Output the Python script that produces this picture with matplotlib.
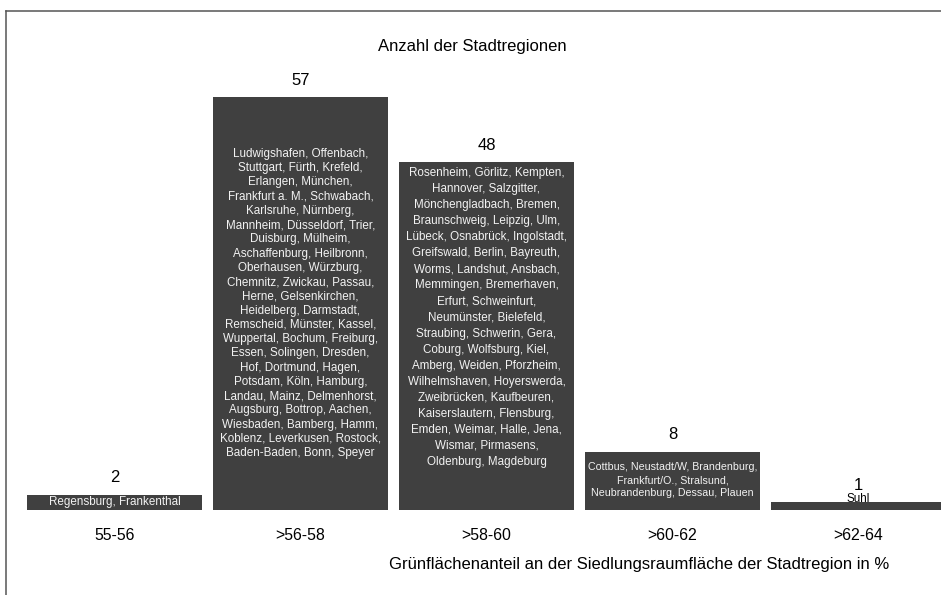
import matplotlib.pyplot as plt
from matplotlib.lines import Line2D

plt.rcParams['font.family'] = ['Liberation Sans', 'DejaVu Sans']

# Grünflächenanteil classes and number of city regions per class
classes = ['55-56', '>56-58', '>58-60', '>60-62', '>62-64']
counts = [2, 57, 48, 8, 1]
regions = [
    'Regensburg, Frankenthal',
    'Ludwigshafen, Offenbach,\nStuttgart, Fürth, Krefeld,\nErlangen, München,\n'
    'Frankfurt a. M., Schwabach,\nKarlsruhe, Nürnberg,\nMannheim, Düsseldorf, Trier,\n'
    'Duisburg, Mülheim,\nAschaffenburg, Heilbronn,\nOberhausen, Würzburg,\n'
    'Chemnitz, Zwickau, Passau,\nHerne, Gelsenkirchen,\nHeidelberg, Darmstadt,\n'
    'Remscheid, Münster, Kassel,\nWuppertal, Bochum, Freiburg,\nEssen, Solingen, Dresden,\n'
    'Hof, Dortmund, Hagen,\nPotsdam, Köln, Hamburg,\nLandau, Mainz, Delmenhorst,\n'
    'Augsburg, Bottrop, Aachen,\nWiesbaden, Bamberg, Hamm,\nKoblenz, Leverkusen, Rostock,\n'
    'Baden-Baden, Bonn, Speyer',
    'Rosenheim, Görlitz, Kempten,\nHannover, Salzgitter,\nMönchengladbach, Bremen,\n'
    'Braunschweig, Leipzig, Ulm,\nLübeck, Osnabrück, Ingolstadt,\nGreifswald, Berlin, Bayreuth,\n'
    'Worms, Landshut, Ansbach,\nMemmingen, Bremerhaven,\nErfurt, Schweinfurt,\n'
    'Neumünster, Bielefeld,\nStraubing, Schwerin, Gera,\nCoburg, Wolfsburg, Kiel,\n'
    'Amberg, Weiden, Pforzheim,\nWilhelmshaven, Hoyerswerda,\nZweibrücken, Kaufbeuren,\n'
    'Kaiserslautern, Flensburg,\nEmden, Weimar, Halle, Jena,\nWismar, Pirmasens,\n'
    'Oldenburg, Magdeburg',
    'Cottbus, Neustadt/W, Brandenburg,\nFrankfurt/O., Stralsund,\nNeubrandenburg, Dessau, Plauen',
    'Suhl',
]

bar_color = '#404040'
W, H = 941, 595
base_px = 509.5      # baseline of the bars, px from top
unit_px = 7.23       # px per city region
step_px = 186.0      # distance between bar centres
first_px = 114.5     # centre of the first bar

fig = plt.figure(figsize=(W / 100, H / 100), dpi=100)
ax = fig.add_axes([0, (H - base_px) / H, 1, base_px / H])
ax.set_xlim(-first_px / step_px, (W - first_px) / step_px)
ax.set_ylim(0, base_px / unit_px)
ax.axis('off')

xs = range(len(classes))
ax.bar(xs, counts, width=0.94, color=bar_color, clip_on=True)

# name block inside each bar: centre as share of bar height, font size, line spacing
name_frac = [0.5, 0.5, 0.553, 0.51, None]
name_size = [8.4, 8.4, 8.4, 7.7, 8.4]
name_spacing = [1.0, 1.25, 1.45, 1.4, 1.0]

for x, c, lab, names, frac, fs, ls in zip(xs, counts, classes, regions,
                                          name_frac, name_size, name_spacing):
    ax.annotate(str(c), xy=(x, c), xytext=(0, 12.3), textcoords='offset points',
                ha='center', va='center', fontsize=12, color='black')
    ax.annotate(lab, xy=(x, 0), xytext=(0, -18.5), textcoords='offset points',
                ha='center', va='center', fontsize=11.4, color='black',
                annotation_clip=False)
    if frac is None:
        ax.annotate(names, xy=(x, c), xytext=(0, -2.0), textcoords='offset points',
                    ha='center', va='bottom', fontsize=fs, color='black')
    else:
        ax.text(x, c * frac, names, ha='center', va='center', fontsize=fs,
                color='#f2f2f2', linespacing=ls)

fig.text(472 / W, 1 - 46 / H, 'Anzahl der Stadtregionen',
         ha='center', va='center', fontsize=12)
fig.text(639 / W, 1 - 565 / H,
         'Grünflächenanteil an der Siedlungsraumfläche der Stadtregion in %',
         ha='center', va='center', fontsize=12)

# outer frame, running off the right and bottom edges
fx, fy = 5.5 / W, 1 - 10.5 / H
fig.add_artist(Line2D([fx, fx], [-0.05, fy], transform=fig.transFigure,
                      color='#555555', lw=1.1))
fig.add_artist(Line2D([fx, 1.05], [fy, fy], transform=fig.transFigure,
                      color='#555555', lw=1.1))

fig.savefig('out.png', dpi=100, facecolor='white')
